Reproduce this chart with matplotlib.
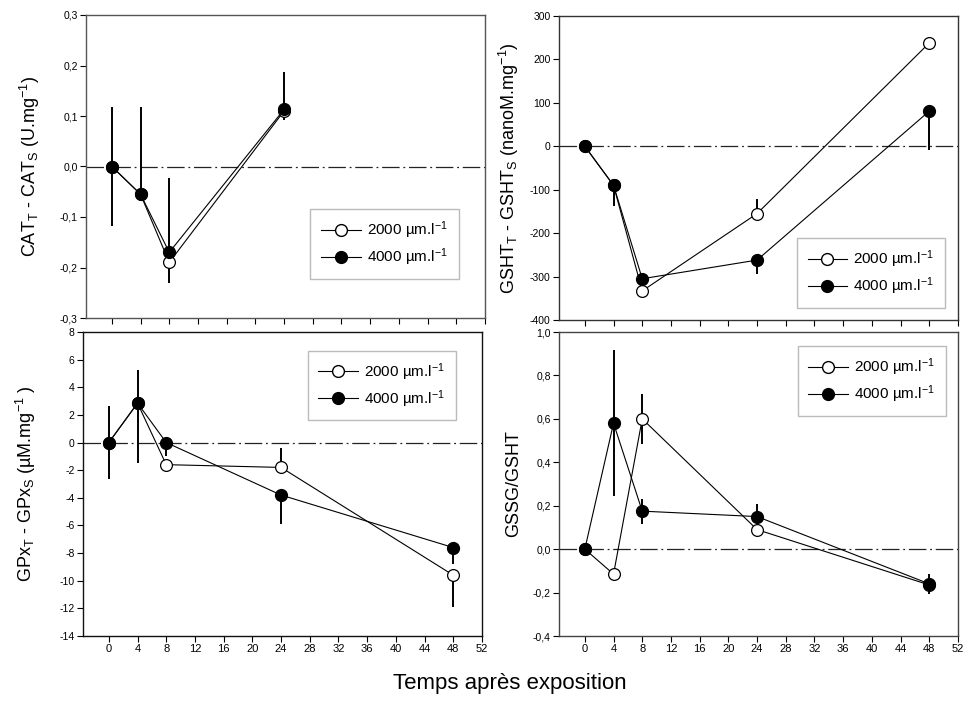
import matplotlib
matplotlib.use("Agg")
import matplotlib.pyplot as plt
import numpy as np
from matplotlib.ticker import FuncFormatter
from matplotlib.lines import Line2D

plt.rcParams["font.family"] = ["Liberation Sans", "DejaVu Sans"]
plt.rcParams["mathtext.default"] = "regular"

# sampling times (h)
times = [0, 4, 8, 24]
times_long = [0, 4, 8, 24, 48]
xticks = list(range(0, 53, 4))

# CAT
cat_2000 = [0.0, -0.055, -0.19, 0.11]
cat_4000 = [0.0, -0.055, -0.17, 0.113]
cat_2000_err = ([0, 0, 0.04, 0.017], [0, 0, 0, 0])
cat_4000_err = ([0.118, 0, 0, 0], [0.118, 0.173, 0.148, 0.074])

# GSHT
gsht_2000 = [0, -90, -333, -155, 238]
gsht_4000 = [0, -90, -305, -262, 81]
gsht_2000_err = ([0, 0, 8, 0, 0], [0, 0, 0, 33, 0])
gsht_4000_err = ([0, 47, 0, 32, 89], [0, 0, 0, 0, 0])

# GPx
gpx_2000 = [0.0, 2.85, -1.6, -1.8, -9.6]
gpx_4000 = [0.0, 2.85, 0.0, -3.8, -7.6]
gpx_2000_err = ([0, 0, 0, 0, 2.3], [0, 0, 0, 1.4, 0])
gpx_4000_err = ([2.65, 4.35, 1.0, 2.1, 1.2], [2.65, 2.4, 0, 0, 0])

# GSSG/GSHT
ratio_2000 = [0.0, -0.115, 0.6, 0.09, -0.165]
ratio_4000 = [0.0, 0.58, 0.175, 0.15, -0.16]
ratio_2000_err = ([0, 0, 0.114, 0.036, 0], [0, 0, 0.114, 0, 0])
ratio_4000_err = ([0, 0.335, 0.057, 0, 0.046], [0, 0.335, 0.057, 0.058, 0.046])

labels = ["2000 µm.l$^{-1}$", "4000 µm.l$^{-1}$"]

W, H = 971, 716
fig = plt.figure(figsize=(W / 100, H / 100), dpi=100)


def px_axes(left, right, top, bottom):
    return fig.add_axes([left / W, 1 - bottom / H, (right - left) / W, (bottom - top) / H])


comma = FuncFormatter(lambda v, p: f"{v:.1f}".replace(".", ",").replace("-0,0", "0,0"))
integer = FuncFormatter(lambda v, p: f"{v:.0f}")


def panel(ax, x, y1, y2, e1, e2, ylim, yticks, ylabel, fmt, show_x, leg_center, labelx, spine_col):
    ax.errorbar(x, y1, yerr=e1, fmt="none", ecolor="black", elinewidth=1.4, capsize=0, zorder=2)
    ax.errorbar(x, y2, yerr=e2, fmt="none", ecolor="black", elinewidth=1.4, capsize=0, zorder=2)
    ax.axhline(0, color="#222222", lw=0.9, ls=(0, (14, 3, 1.5, 3)), zorder=1)
    ax.plot(x, y1, "-o", color="black", lw=0.8, ms=8.5, mfc="white", mec="black", mew=0.9, zorder=3)
    ax.plot(x, y2, "-o", color="black", lw=0.8, ms=8.5, mfc="black", mec="black", zorder=4)
    ax.set_xlim(-3.6, 52)
    ax.set_ylim(*ylim)
    ax.set_xticks(xticks)
    ax.set_yticks(yticks)
    ax.yaxis.set_major_formatter(fmt)
    ax.tick_params(direction="out", length=4, width=0.8, labelsize=7.5, pad=2)
    if show_x:
        ax.set_xticklabels([str(t) for t in xticks], fontsize=8)
    else:
        ax.set_xticklabels([])
    for s in ax.spines.values():
        s.set_linewidth(1.0)
        s.set_color(spine_col)
    ax.set_ylabel(ylabel, fontsize=13)
    ax.yaxis.set_label_coords(labelx, 0.5)
    handles = [
        Line2D([], [], color="black", lw=0.8, marker="o", ms=8.5, mfc="white", mec="black"),
        Line2D([], [], color="black", lw=0.8, marker="o", ms=8.5, mfc="black", mec="black"),
    ]
    leg = ax.legend(handles, labels, loc="center", bbox_to_anchor=leg_center, fontsize=11,
                    frameon=True, fancybox=False, edgecolor="#bbbbbb", framealpha=1,
                    handlelength=2.6, borderpad=0.7, handletextpad=0.4, labelspacing=0.35)
    leg.get_frame().set_linewidth(1.0)


ax1 = px_axes(86, 485, 15, 318)
panel(ax1, times, cat_2000, cat_4000, cat_2000_err, cat_4000_err, (-0.3, 0.3),
      np.arange(-0.3, 0.31, 0.1), "CAT$_T$ - CAT$_S$ (U.mg$^{-1}$)", comma, False, (0.748, 0.244), -0.11, "#555555")

ax2 = px_axes(559, 958, 16, 320)
panel(ax2, times_long, gsht_2000, gsht_4000, gsht_2000_err, gsht_4000_err, (-400, 300),
      np.arange(-400, 301, 100), "GSHT$_T$ - GSHT$_S$ (nanoM.mg$^{-1}$)", integer, False, (0.782, 0.156), -0.095, "#333333")

ax3 = px_axes(83, 482, 332, 636)
panel(ax3, times_long, gpx_2000, gpx_4000, gpx_2000_err, gpx_4000_err, (-14, 8),
      np.arange(-14, 9, 2), "GPx$_T$ - GPx$_S$ (µM.mg$^{-1}$ )", integer, True, (0.749, 0.824), -0.113, "#111111")

ax4 = px_axes(559, 958, 332, 636)
panel(ax4, times_long, ratio_2000, ratio_4000, ratio_2000_err, ratio_4000_err, (-0.4, 1.0),
      np.arange(-0.4, 1.01, 0.2), "GSSG/GSHT", comma, True, (0.784, 0.839), -0.093, "#444444")

fig.text(510 / W, 1 - 683 / H, "Temps après exposition", ha="center", va="center", fontsize=16)

fig.savefig("out.png", dpi=100)
